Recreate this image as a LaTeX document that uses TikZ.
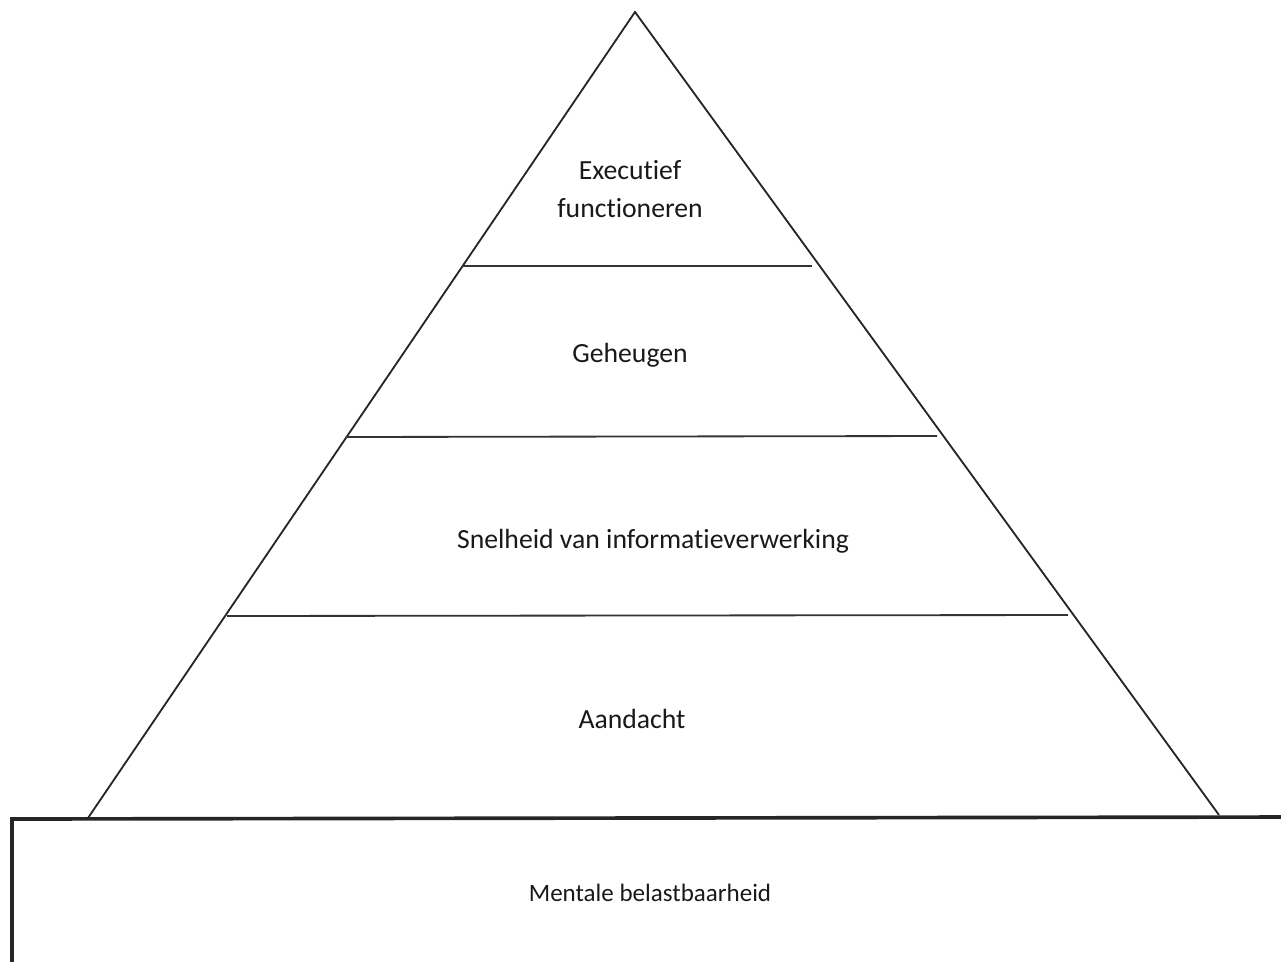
\documentclass[tikz,border=0pt]{standalone}
\usepackage{fontspec}
\setmainfont{Carlito}[Ligatures=NoCommon]
\usetikzlibrary{calc}
\usetikzlibrary{positioning}
\tikzstyle{layer} = [text centered, align=center, inner sep=2pt, font=\fontsize{19.7}{26.5}\selectfont, text=black!90]
\tikzstyle{baselabel} = [text centered, inner sep=2pt, font=\fontsize{17.8}{21}\selectfont, text=black!90]
\tikzstyle{edge} = [line width=1.3pt, black!85]
\tikzstyle{divider} = [line width=1.3pt, black!80]
\tikzstyle{basebox} = [line width=2.6pt, black!85]

\begin{document}
\begin{tikzpicture}[x=0.025cm,y=-0.025cm]
		\useasboundingbox (0,0) rectangle (1281,961);

		% pyramid corners
		\coordinate (top) at (635,12);
		\coordinate (BL) at (88,818);
		\coordinate (BR) at (1219,815);

		% base block
		\coordinate (boxbottom) at (12,990);
		\coordinate (boxcorner) at (12,819);
		\coordinate (boxright) at (1300,817);
		\draw[basebox] (boxbottom) -- (boxcorner) -- (boxright);

		% pyramid
		\draw[edge] (BL) -- (top) -- (BR);

		% dividers
		\coordinate (d1l) at (462,266);
		\coordinate (d1r) at (812,266);
		\coordinate (d2l) at (346,437);
		\coordinate (d2r) at (937,436);
		\coordinate (d3l) at (227,616);
		\coordinate (d3r) at (1068,615);
		\draw[divider] (d1l) -- (d1r);
		\draw[divider] (d2l) -- (d2r);
		\draw[divider] (d3l) -- (d3r);

		% labels
		\node [layer] (EF) at (630,189) {Executief\\functioneren};
		\node [layer] (GH) at (630,355) {Geheugen};
		\node [layer] (SI) at (653,541) {Snelheid van informatieverwerking};
		\node [layer] (AD) at (632,719) {Aandacht};
		\node [baselabel] (MB) at (650,893) {Mentale belastbaarheid};

\end{tikzpicture}
\end{document}
